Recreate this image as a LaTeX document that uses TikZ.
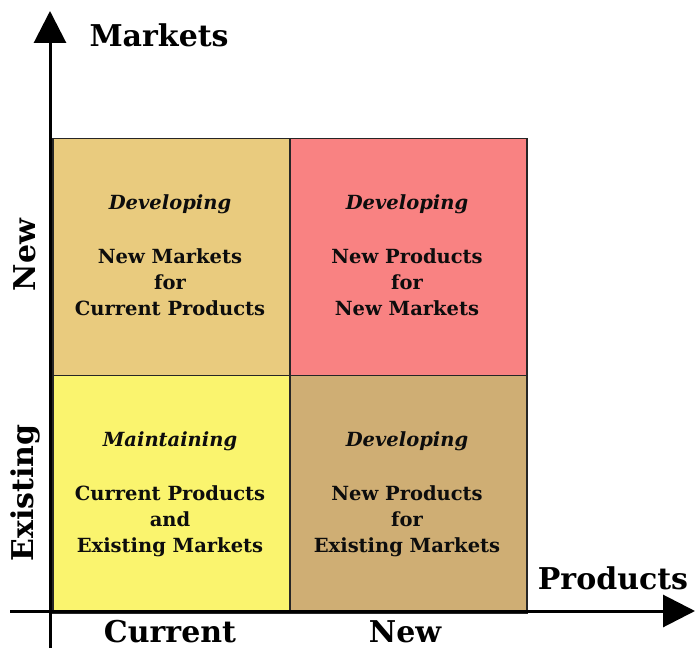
\documentclass[tikz,border=0pt]{standalone}
\usepackage{fontspec}
\setmainfont{DejaVu Serif}
\usetikzlibrary{arrows.meta}
\definecolor{qtl}{HTML}{E9CB7E}
\definecolor{qtr}{HTML}{F98282}
\definecolor{qbl}{HTML}{FAF46E}
\definecolor{qbr}{HTML}{CFAE74}
\tikzset{
  quad/.style={draw=black!85, line width=1.5pt, minimum width=237pt, minimum height=237pt, inner sep=0pt, anchor=north west},
  qtext/.style={font=\fontsize{19.5}{26}\selectfont\bfseries, align=center, text=black!95},
  axislab/.style={font=\fontsize{30}{32}\selectfont\bfseries},
  axis/.style={line width=3pt, -{Triangle[length=32pt,width=32pt]}}
}
\begin{document}
\begin{tikzpicture}[x=1pt,y=1pt]
\useasboundingbox (0,0) rectangle (696,654);
% quadrants (y = 654 - ypx)
\node[quad, fill=qtl] (tl) at (52,516) {};
\node[quad, fill=qtr] (tr) at (289,516) {};
\node[quad, fill=qbl] (bl) at (52,279) {};
\node[quad, fill=qbr] (br) at (289,279) {};
% texts
\node[qtext] (ttl) at (170,399) {\textit{Developing}\\[28pt]New Markets\\for\\Current Products};
\node[qtext] (ttr) at (407,399) {\textit{Developing}\\[28pt]New Products\\for\\New Markets};
\node[qtext] (tbl) at (170,160) {\textit{Maintaining}\\[28pt]Current Products\\and\\Existing Markets};
\node[qtext] (tbr) at (407,160) {\textit{Developing}\\[28pt]New Products\\for\\Existing Markets};
% axes
\coordinate (vs) at (50,6);
\coordinate (ve) at (50,643);
\coordinate (hs) at (10,43);
\coordinate (he) at (695,43);
\draw[axis] (vs) -- (ve);
\draw[axis] (hs) -- (he);
% axis labels
\node[axislab, anchor=west] (mk) at (86,619) {Markets};
\node[axislab, anchor=center] (pr) at (613,76) {Products};
\node[axislab] (cur) at (170,22) {Current};
\node[axislab] (nw) at (405,22) {New};
\node[axislab, rotate=90] (ynew) at (25,399) {New};
\node[axislab, rotate=90] (yex) at (25,161) {Existing};
\end{tikzpicture}
\end{document}
